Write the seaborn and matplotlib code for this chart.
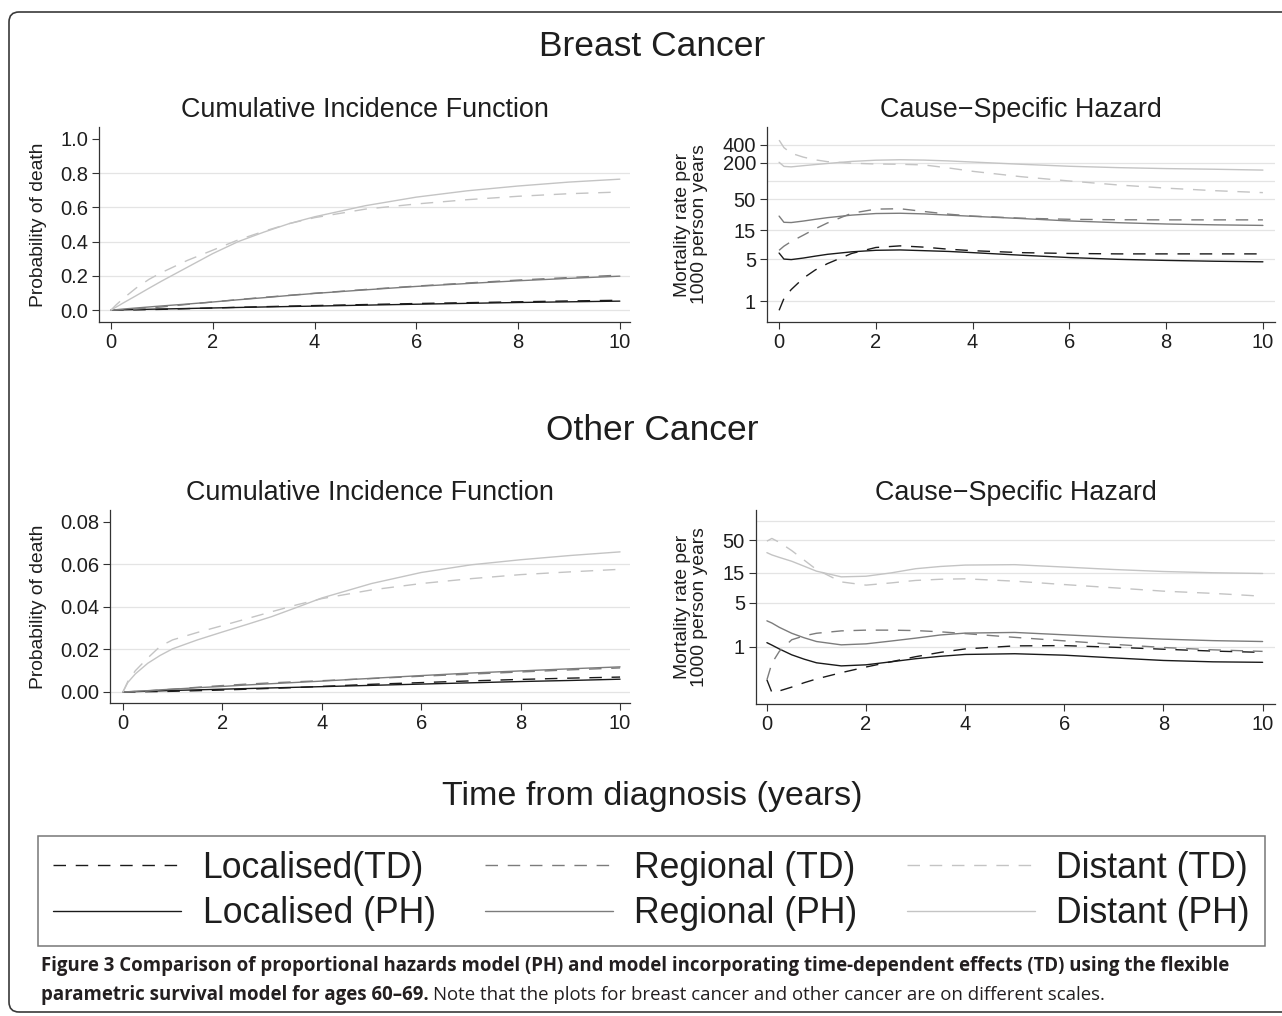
import matplotlib
matplotlib.use('Agg')
import matplotlib.pyplot as plt
import seaborn as sns
from matplotlib.patches import FancyBboxPatch
from matplotlib.transforms import IdentityTransform
from matplotlib.ticker import FixedLocator, NullLocator, FixedFormatter

W, H = 1282, 1016

YEARS = [0, 0.1, 0.25, 0.5, 0.75, 1, 1.5, 2, 2.5, 3, 3.5, 4, 5, 6, 7, 8, 9, 10]

# Breast cancer - cumulative incidence (probability of death)
BC_CIF_LOC_TD = [0, 0.0001, 0.0004, 0.0012, 0.0025, 0.004, 0.008, 0.012, 0.016, 0.0195, 0.023, 0.026, 0.032, 0.038, 0.043, 0.048, 0.053, 0.057]
BC_CIF_LOC_PH = [0, 0.0006, 0.0015, 0.003, 0.0045, 0.006, 0.009, 0.012, 0.015, 0.0178, 0.0205, 0.023, 0.0285, 0.034, 0.039, 0.044, 0.048, 0.052]
BC_CIF_REG_TD = [0, 0.0005, 0.002, 0.006, 0.012, 0.018, 0.033, 0.047, 0.061, 0.074, 0.086, 0.098, 0.12, 0.14, 0.158, 0.175, 0.19, 0.204]
BC_CIF_REG_PH = [0, 0.002, 0.006, 0.012, 0.018, 0.024, 0.035, 0.047, 0.06, 0.072, 0.085, 0.097, 0.118, 0.138, 0.155, 0.171, 0.185, 0.198]
BC_CIF_DIS_TD = [0, 0.03, 0.07, 0.13, 0.18, 0.22, 0.29, 0.35, 0.41, 0.46, 0.505, 0.54, 0.59, 0.62, 0.645, 0.665, 0.68, 0.69]
BC_CIF_DIS_PH = [0, 0.017, 0.043, 0.085, 0.128, 0.17, 0.25, 0.33, 0.40, 0.455, 0.505, 0.545, 0.61, 0.66, 0.697, 0.725, 0.748, 0.765]

# Breast cancer - cause-specific hazard (per 1000 person years)
BC_CSH_LOC_TD = [0.7, 1.1, 1.55, 2.4, 3.3, 4.2, 6.2, 7.8, 8.3, 7.9, 7.3, 6.9, 6.4, 6.2, 6.1, 6.1, 6.1, 6.1]
BC_CSH_LOC_PH = [6.3, 5.0, 4.9, 5.2, 5.6, 6.0, 6.6, 7.0, 7.1, 6.9, 6.7, 6.4, 5.8, 5.3, 4.95, 4.75, 4.6, 4.5]
BC_CSH_REG_TD = [7.0, 8.2, 9.8, 12.5, 16, 20, 29, 34, 34.5, 31, 28, 26, 24, 23, 22.6, 22.5, 22.5, 22.5]
BC_CSH_REG_PH = [26, 20.5, 20.3, 21.5, 23, 24.5, 27, 28.7, 29, 28.3, 27, 25.8, 23.7, 21.6, 20.2, 19.2, 18.6, 18.2]
BC_CSH_DIS_TD = [480, 360, 290, 250, 225, 210, 198, 192, 190, 185, 165, 145, 118, 100, 86, 76, 69, 64]
BC_CSH_DIS_PH = [205, 175, 172, 180, 188, 196, 212, 222, 226, 223, 216, 207, 190, 176, 167, 161, 157, 152]

# Other cancer - cumulative incidence
OC_CIF_LOC_TD = [0, 0.00002, 0.00005, 0.00012, 0.0002, 0.0003, 0.0006, 0.0009, 0.0013, 0.0017, 0.0021, 0.0026, 0.0036, 0.0044, 0.0052, 0.0059, 0.0065, 0.007]
OC_CIF_LOC_PH = [0, 0.00007, 0.00017, 0.00035, 0.0005, 0.0007, 0.001, 0.0013, 0.0016, 0.0019, 0.0022, 0.0025, 0.0031, 0.0037, 0.0043, 0.0049, 0.0054, 0.006]
OC_CIF_REG_TD = [0, 0.0001, 0.0002, 0.0005, 0.0009, 0.0013, 0.0022, 0.003, 0.0037, 0.0043, 0.0048, 0.0053, 0.0063, 0.0074, 0.0084, 0.0094, 0.0104, 0.0113]
OC_CIF_REG_PH = [0, 0.0001, 0.0003, 0.0006, 0.001, 0.0013, 0.002, 0.0026, 0.0033, 0.0039, 0.0045, 0.0051, 0.0064, 0.0077, 0.0089, 0.0099, 0.0109, 0.0118]
OC_CIF_DIS_TD = [0, 0.005, 0.01, 0.016, 0.0215, 0.0245, 0.028, 0.0312, 0.0345, 0.0378, 0.041, 0.0439, 0.048, 0.051, 0.0533, 0.0552, 0.0565, 0.0577]
OC_CIF_DIS_PH = [0, 0.0045, 0.0085, 0.0135, 0.0172, 0.0203, 0.0245, 0.0282, 0.0318, 0.0355, 0.0398, 0.0442, 0.051, 0.0562, 0.0598, 0.0622, 0.0642, 0.0659]

# Other cancer - cause-specific hazard
OC_CSH_LOC_TD = [0.30, 0.19, 0.20, 0.23, 0.27, 0.31, 0.39, 0.48, 0.58, 0.70, 0.82, 0.93, 1.04, 1.05, 0.99, 0.92, 0.86, 0.82]
OC_CSH_LOC_PH = [1.17, 1.07, 0.93, 0.75, 0.64, 0.56, 0.50, 0.52, 0.58, 0.65, 0.71, 0.76, 0.78, 0.74, 0.67, 0.61, 0.58, 0.57]
OC_CSH_REG_TD = [0.30, 0.55, 0.85, 1.3, 1.5, 1.65, 1.8, 1.85, 1.85, 1.82, 1.74, 1.63, 1.42, 1.25, 1.1, 0.98, 0.9, 0.85]
OC_CSH_REG_PH = [2.6, 2.4, 2.05, 1.65, 1.4, 1.22, 1.08, 1.12, 1.24, 1.38, 1.55, 1.66, 1.70, 1.56, 1.43, 1.33, 1.26, 1.22]
OC_CSH_DIS_TD = [48, 53, 46, 34, 24, 17, 10.8, 9.6, 10.4, 11.4, 11.9, 12.1, 11.1, 9.8, 8.7, 7.7, 7.1, 6.4]
OC_CSH_DIS_PH = [31.5, 29, 26.5, 23, 19.2, 16, 13, 13.3, 15, 17.5, 19, 20, 20.3, 18.6, 17, 15.8, 15.1, 14.7]

LABELS = ['Localised(TD)', 'Localised (PH)', 'Regional (TD)', 'Regional (PH)', 'Distant (TD)', 'Distant (PH)']
COLORS = ['#1a1a1a', '#1a1a1a', '#7c7c7c', '#7c7c7c', '#c4c4c4', '#c4c4c4']
DASHED = [True, False, True, False, True, False]

CIF_TICKS_BC = [0.0, 0.2, 0.4, 0.6, 0.8, 1.0]
CIF_TICKS_OC = [0.00, 0.02, 0.04, 0.06, 0.08]
CSH_TICKS_BC = [1, 5, 15, 50, 200, 400]
CSH_TICKS_OC = [1, 5, 15, 50]
X_TICKS = [0, 2, 4, 6, 8, 10]

FONT = ['Liberation Sans', 'DejaVu Sans']
TXT = '#1e1e1e'
GRID = '#e4e4e4'

sns.set_theme(style='ticks')
plt.rcParams['font.family'] = FONT


def add_axes(fig, left, top, right, bottom):
    return fig.add_axes([left / W, 1 - bottom / H, (right - left) / W, (bottom - top) / H])


def draw_panel(ax, series, title):
    for values, label, color, dashed in zip(series, LABELS, COLORS, DASHED):
        ls = (0, (9, 7)) if dashed else '-'
        sns.lineplot(x=YEARS, y=values, ax=ax, color=color, linewidth=1.0,
                     linestyle=ls, label=label, legend=False)
    ax.set_title(title, fontsize=19.4, color=TXT, pad=7.5)
    ax.xaxis.set_major_locator(FixedLocator(X_TICKS))
    ax.tick_params(direction='out', length=5, width=0.8, color='#333333',
                   labelsize=14.5, labelcolor=TXT, pad=3)
    for side in ['left', 'bottom']:
        ax.spines[side].set_color('#333333')
        ax.spines[side].set_linewidth(0.9)
    sns.despine(ax=ax)


fig = plt.figure(figsize=(W / 100, H / 100), dpi=100)
fig.patch.set_facecolor('white')

# outer rounded frame (right side runs off the page like the source)
frame = FancyBboxPatch((9, H - 1012), 1310, 1000, boxstyle='round,pad=0,rounding_size=10',
                       transform=IdentityTransform(), fill=False, edgecolor='#3a3a3a', linewidth=1.2)
fig.patches.append(frame)

# ---- Breast cancer ----
ax1 = add_axes(fig, 99, 127, 630, 322)
draw_panel(ax1, [BC_CIF_LOC_TD, BC_CIF_LOC_PH, BC_CIF_REG_TD, BC_CIF_REG_PH, BC_CIF_DIS_TD, BC_CIF_DIS_PH],
           'Cumulative Incidence Function')
ax1.set_xlim(-0.236, 10.2)
ax1.set_ylim(-0.070, 1.070)
ax1.yaxis.set_major_locator(FixedLocator(CIF_TICKS_BC))
ax1.yaxis.set_major_formatter(FixedFormatter([f'{t:.1f}' for t in CIF_TICKS_BC]))
for t in CIF_TICKS_BC[:-1]:
    ax1.axhline(t, color=GRID, linewidth=0.9, zorder=0)
ax1.set_ylabel('Probability of death', fontsize=13.9, color=TXT)
ax1.yaxis.set_label_coords(-0.098, 0.5)

ax2 = add_axes(fig, 767, 127, 1275, 322)
draw_panel(ax2, [BC_CSH_LOC_TD, BC_CSH_LOC_PH, BC_CSH_REG_TD, BC_CSH_REG_PH, BC_CSH_DIS_TD, BC_CSH_DIS_PH],
           'Cause\u2212Specific Hazard')
ax2.set_yscale('log')
ax2.set_xlim(-0.25, 10.25)
ax2.set_ylim(0.447, 794)
ax2.yaxis.set_major_locator(FixedLocator(CSH_TICKS_BC))
ax2.yaxis.set_major_formatter(FixedFormatter([str(t) for t in CSH_TICKS_BC]))
ax2.yaxis.set_minor_locator(NullLocator())
for t in CSH_TICKS_BC + [100]:
    ax2.axhline(t, color=GRID, linewidth=0.9, zorder=0)
ax2.set_ylabel('Mortality rate per\n1000 person years', fontsize=13.9, color=TXT, linespacing=1.0)
ax2.yaxis.set_label_coords(-0.116, 0.5)

# ---- Other cancer ----
ax3 = add_axes(fig, 110, 510, 630, 703)
draw_panel(ax3, [OC_CIF_LOC_TD, OC_CIF_LOC_PH, OC_CIF_REG_TD, OC_CIF_REG_PH, OC_CIF_DIS_TD, OC_CIF_DIS_PH],
           'Cumulative Incidence Function')
ax3.set_xlim(-0.26, 10.2)
ax3.set_ylim(-0.0052, 0.0856)
ax3.yaxis.set_major_locator(FixedLocator(CIF_TICKS_OC))
ax3.yaxis.set_major_formatter(FixedFormatter([f'{t:.2f}' for t in CIF_TICKS_OC]))
for t in CIF_TICKS_OC[:-1]:
    ax3.axhline(t, color=GRID, linewidth=0.9, zorder=0)
ax3.set_ylabel('Probability of death', fontsize=13.9, color=TXT)
ax3.yaxis.set_label_coords(-0.121, 0.5)

ax4 = add_axes(fig, 756, 510, 1275, 704)
draw_panel(ax4, [OC_CSH_LOC_TD, OC_CSH_LOC_PH, OC_CSH_REG_TD, OC_CSH_REG_PH, OC_CSH_DIS_TD, OC_CSH_DIS_PH],
           'Cause\u2212Specific Hazard')
ax4.set_yscale('log')
ax4.set_xlim(-0.22, 10.25)
ax4.set_ylim(0.124, 150)
ax4.yaxis.set_major_locator(FixedLocator(CSH_TICKS_OC))
ax4.yaxis.set_major_formatter(FixedFormatter([str(t) for t in CSH_TICKS_OC]))
ax4.yaxis.set_minor_locator(NullLocator())
for t in CSH_TICKS_OC + [100]:
    ax4.axhline(t, color=GRID, linewidth=0.9, zorder=0)
ax4.set_ylabel('Mortality rate per\n1000 person years', fontsize=13.9, color=TXT, linespacing=1.0)
ax4.yaxis.set_label_coords(-0.092, 0.5)

# big headings
fig.text(652 / W, 1 - 47 / H, 'Breast Cancer', fontsize=25.5, color=TXT, ha='center', va='center')
fig.text(652 / W, 1 - 430 / H, 'Other Cancer', fontsize=25.5, color=TXT, ha='center', va='center')
fig.text(652 / W, 1 - 797 / H, 'Time from diagnosis (years)', fontsize=24.5, color=TXT, ha='center', va='center')

# legend
handles, labels = ax1.get_legend_handles_labels()
leg = fig.legend(handles, labels, ncol=3, loc='center', mode='expand',
                 bbox_to_anchor=(38 / W, 1 - 947 / H, (1265 - 38) / W, (947 - 835) / H),
                 borderaxespad=0, fontsize=25.7, handlelength=3.6, handletextpad=0.59,
                 labelspacing=0.29, borderpad=0.42, frameon=True, fancybox=False)
leg.get_frame().set_edgecolor('#555555')
leg.get_frame().set_linewidth(1.1)
for txt in leg.get_texts():
    txt.set_color(TXT)

# caption
CAP_FONT = ['Open Sans', 'DejaVu Sans']
CAP_COLOR = '#231f20'
cap1 = fig.text(41 / W, 1 - 966 / H,
                'Figure 3 Comparison of proportional hazards model (PH) and model incorporating '
                'time-dependent effects (TD) using the flexible',
                fontsize=12, fontweight='bold', family=CAP_FONT, color=CAP_COLOR, va='center')
fig.canvas.draw()
renderer = fig.canvas.get_renderer()
size = 12 * (1225 - 41) / cap1.get_window_extent(renderer).width
cap1.set_fontsize(size)
cap2 = fig.text(41 / W, 1 - 995 / H, 'parametric survival model for ages 60\u201369.',
                fontsize=size, fontweight='bold', family=CAP_FONT, color=CAP_COLOR, va='center')
fig.canvas.draw()
x_end = cap2.get_window_extent(renderer).x1
fig.text((x_end + size * 0.3) / W, 1 - 995 / H,
         'Note that the plots for breast cancer and other cancer are on different scales.',
         fontsize=size, family=CAP_FONT, color=CAP_COLOR, va='center')

fig.savefig('out.png', dpi=100, facecolor='white')
